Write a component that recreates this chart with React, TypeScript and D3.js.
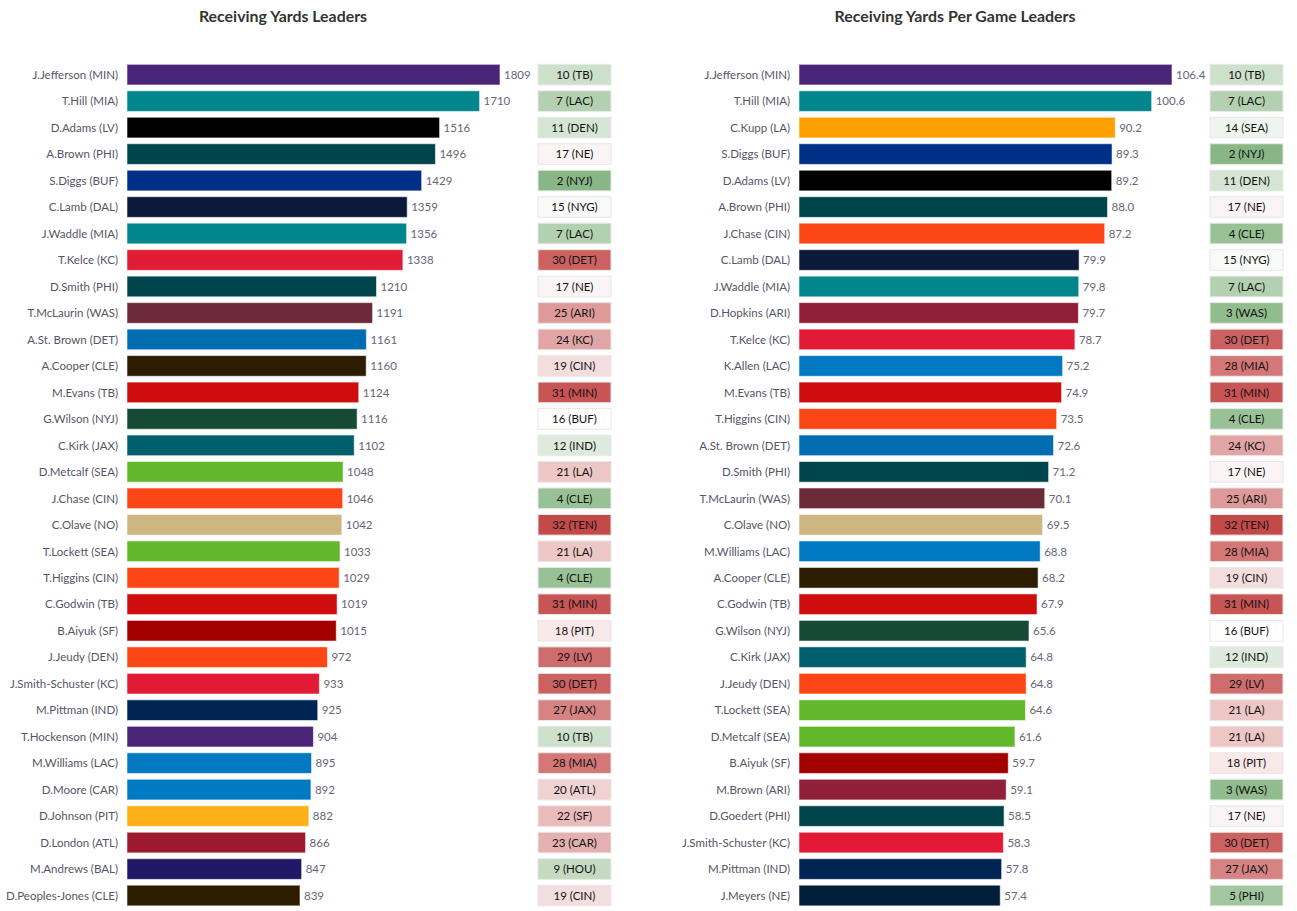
import React from "react";
import * as d3 from "d3";

// ---------- Data ----------
const ydsPlayers = [
  "J.Jefferson (MIN)", "T.Hill (MIA)", "D.Adams (LV)", "A.Brown (PHI)", "S.Diggs (BUF)",
  "C.Lamb (DAL)", "J.Waddle (MIA)", "T.Kelce (KC)", "D.Smith (PHI)", "T.McLaurin (WAS)",
  "A.St. Brown (DET)", "A.Cooper (CLE)", "M.Evans (TB)", "G.Wilson (NYJ)", "C.Kirk (JAX)",
  "D.Metcalf (SEA)", "J.Chase (CIN)", "C.Olave (NO)", "T.Lockett (SEA)", "T.Higgins (CIN)",
  "C.Godwin (TB)", "B.Aiyuk (SF)", "J.Jeudy (DEN)", "J.Smith-Schuster (KC)", "M.Pittman (IND)",
  "T.Hockenson (MIN)", "M.Williams (LAC)", "D.Moore (CAR)", "D.Johnson (PIT)", "D.London (ATL)",
  "M.Andrews (BAL)", "D.Peoples-Jones (CLE)",
];
const ydsValues = [
  1809, 1710, 1516, 1496, 1429, 1359, 1356, 1338, 1210, 1191, 1161, 1160, 1124, 1116, 1102, 1048,
  1046, 1042, 1033, 1029, 1019, 1015, 972, 933, 925, 904, 895, 892, 882, 866, 847, 839,
];
const ydsTeams = [
  "MIN", "MIA", "LV", "PHI", "BUF", "DAL", "MIA", "KC", "PHI", "WAS", "DET", "CLE", "TB", "NYJ", "JAX", "SEA",
  "CIN", "NO", "SEA", "CIN", "TB", "SF", "DEN", "KC", "IND", "MIN", "LAC", "CAR", "PIT", "ATL", "BAL", "CLE",
];
const ydsOppRank = [10, 7, 11, 17, 2, 15, 7, 30, 17, 25, 24, 19, 31, 16, 12, 21, 4, 32, 21, 4, 31, 18, 29, 30, 27, 10, 28, 20, 22, 23, 9, 19];
const ydsOppTeam = [
  "TB", "LAC", "DEN", "NE", "NYJ", "NYG", "LAC", "DET", "NE", "ARI", "KC", "CIN", "MIN", "BUF", "IND", "LA",
  "CLE", "TEN", "LA", "CLE", "MIN", "PIT", "LV", "DET", "JAX", "TB", "MIA", "ATL", "SF", "CAR", "HOU", "CIN",
];

const ypgPlayers = [
  "J.Jefferson (MIN)", "T.Hill (MIA)", "C.Kupp (LA)", "S.Diggs (BUF)", "D.Adams (LV)",
  "A.Brown (PHI)", "J.Chase (CIN)", "C.Lamb (DAL)", "J.Waddle (MIA)", "D.Hopkins (ARI)",
  "T.Kelce (KC)", "K.Allen (LAC)", "M.Evans (TB)", "T.Higgins (CIN)", "A.St. Brown (DET)",
  "D.Smith (PHI)", "T.McLaurin (WAS)", "C.Olave (NO)", "M.Williams (LAC)", "A.Cooper (CLE)",
  "C.Godwin (TB)", "G.Wilson (NYJ)", "C.Kirk (JAX)", "J.Jeudy (DEN)", "T.Lockett (SEA)",
  "D.Metcalf (SEA)", "B.Aiyuk (SF)", "M.Brown (ARI)", "D.Goedert (PHI)", "J.Smith-Schuster (KC)",
  "M.Pittman (IND)", "J.Meyers (NE)",
];
const ypgValues = [
  106.4, 100.6, 90.2, 89.3, 89.2, 88.0, 87.2, 79.9, 79.8, 79.7, 78.7, 75.2, 74.9, 73.5, 72.6, 71.2,
  70.1, 69.5, 68.8, 68.2, 67.9, 65.6, 64.8, 64.8, 64.6, 61.6, 59.7, 59.1, 58.5, 58.3, 57.8, 57.4,
];
const ypgTeams = [
  "MIN", "MIA", "LA", "BUF", "LV", "PHI", "CIN", "DAL", "MIA", "ARI", "KC", "LAC", "TB", "CIN", "DET", "PHI",
  "WAS", "NO", "LAC", "CLE", "TB", "NYJ", "JAX", "DEN", "SEA", "SEA", "SF", "ARI", "PHI", "KC", "IND", "NE",
];
const ypgOppRank = [10, 7, 14, 2, 11, 17, 4, 15, 7, 3, 30, 28, 31, 4, 24, 17, 25, 32, 28, 19, 31, 16, 12, 29, 21, 21, 18, 3, 17, 30, 27, 5];
const ypgOppTeam = [
  "TB", "LAC", "SEA", "NYJ", "DEN", "NE", "CLE", "NYG", "LAC", "WAS", "DET", "MIA", "MIN", "CLE", "KC", "NE",
  "ARI", "TEN", "MIA", "CIN", "MIN", "BUF", "IND", "LV", "LA", "LA", "PIT", "WAS", "NE", "DET", "JAX", "PHI",
];

const teamColors: Record<string, string> = {
  MIN: "#4A2577", MIA: "#00868C", LV: "#000000", PHI: "#00454B", BUF: "#002F87", DAL: "#0B1A38",
  KC: "#E21A36", WAS: "#6B2B38", DET: "#006DB0", CLE: "#2C1D00", TB: "#D00D0D", NYJ: "#164A36",
  JAX: "#005F6C", SEA: "#61B82A", CIN: "#FC4616", NO: "#CEB683", SF: "#A40000", DEN: "#FC4616",
  IND: "#002452", LAC: "#0078C2", CAR: "#007AC2", PIT: "#FDB017", ATL: "#9D1A2E", BAL: "#211766",
  LA: "#FFA000", ARI: "#8F2038", NE: "#001D3A",
};

// ---------- Layout ----------
const W = 1297;
const H = 911;
const ROW_TOP = 61.4;
const ROW_STEP = 26.48;
const BAR_W = 373;

const rankColor = d3
  .scaleLinear<string>()
  .domain([1, 16, 32])
  .range(["#80b27c", "#ffffff", "#c44a4a"])
  .interpolate(d3.interpolateRgb);

const FONT = "'Source Sans Pro', Lato, 'Noto Sans', sans-serif";

type PanelProps = {
  title: string;
  titleX: number;
  labelRight: number;
  barX: number;
  boxX: number;
  players: string[];
  values: number[];
  teams: string[];
  oppRank: number[];
  oppTeam: string[];
  fmt: (v: number) => string;
};

function Panel(p: PanelProps) {
  const idx = p.players.map((_, i) => i);
  const y = d3
    .scaleBand<number>()
    .domain(idx)
    .range([ROW_TOP, ROW_TOP + idx.length * ROW_STEP])
    .paddingInner(0.22)
    .paddingOuter(0.11);
  const x = d3.scaleLinear().domain([0, d3.max(p.values) as number]).range([0, BAR_W]);
  const bw = y.bandwidth();
  return (
    <g>
      <text
        x={p.titleX}
        y={22}
        textAnchor="middle"
        fontFamily={FONT}
        fontWeight={700}
        fontSize={15.9}
        fill="#333"
      >
        {p.title}
      </text>
      {idx.map((i) => {
        const yy = y(i) as number;
        const cy = yy + bw / 2;
        const w = x(p.values[i]);
        return (
          <g key={i}>
            <text
              x={p.labelRight}
              y={cy}
              dy="0.37em"
              textAnchor="end"
              fontFamily={FONT}
              fontSize={11.5}
              fill="#555566"
            >
              {p.players[i]}
            </text>
            <rect
              x={p.barX}
              y={yy}
              width={w}
              height={bw}
              fill={teamColors[p.teams[i]]}
              stroke="#ffffff"
              strokeOpacity={0.55}
              strokeWidth={1}
            />
            <text
              x={p.barX + w + 4}
              y={cy}
              dy="0.37em"
              fontFamily={FONT}
              fontSize={11.5}
              fill="#666677"
            >
              {p.fmt(p.values[i])}
            </text>
            <rect
              x={p.boxX}
              y={yy}
              width={73}
              height={bw}
              fill={rankColor(p.oppRank[i])}
              stroke="#e8e8e8"
              strokeWidth={1}
            />
            <text
              x={p.boxX + 36.5}
              y={cy}
              dy="0.37em"
              textAnchor="middle"
              fontFamily={FONT}
              fontSize={11.5}
              fill="#111"
            >
              {`${p.oppRank[i]} (${p.oppTeam[i]})`}
            </text>
          </g>
        );
      })}
    </g>
  );
}

export default function App() {
  return (
    <svg
      width={W}
      height={H}
      style={{ position: "absolute", left: 0, top: 0, background: "#fff" }}
    >
      <Panel
        title="Receiving Yards Leaders"
        titleX={283}
        labelRight={118}
        barX={127}
        boxX={538}
        players={ydsPlayers}
        values={ydsValues}
        teams={ydsTeams}
        oppRank={ydsOppRank}
        oppTeam={ydsOppTeam}
        fmt={(v) => d3.format("d")(v)}
      />
      <Panel
        title="Receiving Yards Per Game Leaders"
        titleX={955}
        labelRight={790}
        barX={799}
        boxX={1210}
        players={ypgPlayers}
        values={ypgValues}
        teams={ypgTeams}
        oppRank={ypgOppRank}
        oppTeam={ypgOppTeam}
        fmt={(v) => d3.format(".1f")(v)}
      />
    </svg>
  );
}
